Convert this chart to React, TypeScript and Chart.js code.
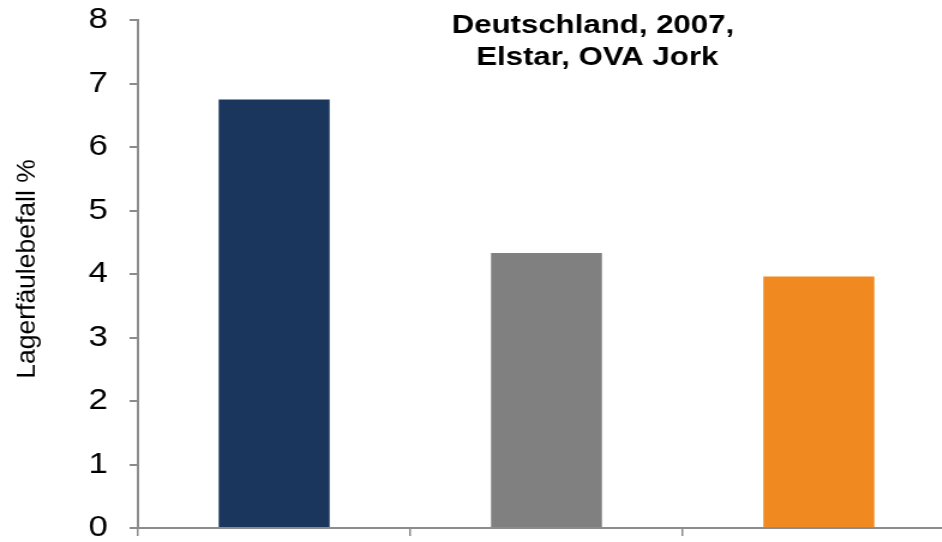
import React, { useEffect, useRef } from "react";
import { Chart, registerables } from "chart.js";

Chart.register(...registerables);

const CATEGORIES = ["", "", ""];
const VALUES = [6.75, 4.33, 3.96];
const BAR_COLORS = ["#1b365d", "#808080", "#f0891f"];
const Y_TICKS_MIN = 0;
const Y_TICKS_MAX = 8;
const Y_TITLE = "Lagerfäulebefall %";
const TITLE_LINES = ["Deutschland, 2007,", " Elstar, OVA Jork"];

const AXIS_COLOR = "#8c8c8c";
const FONT = '"Liberation Sans", Arial, Helvetica, sans-serif';

const titlePlugin = {
  id: "customTitle",
  afterDraw(chart: any) {
    const { ctx, chartArea } = chart;
    const w = chartArea.right - chartArea.left;
    ctx.save();
    ctx.fillStyle = "#000";
    ctx.font = `bold 26px ${FONT}`;
    ctx.textAlign = "center";
    ctx.textBaseline = "alphabetic";
    const cx = chartArea.left + 0.5568 * w;
    ctx.fillText(TITLE_LINES[0], cx, chartArea.top + 13);
    ctx.fillText(TITLE_LINES[1], cx, chartArea.top + 45);
    ctx.restore();

    // y axis title
    ctx.save();
    ctx.fillStyle = "#000";
    ctx.translate(23, (chartArea.top + chartArea.bottom) / 2 - 5);
    ctx.scale(0.85, 1);
    ctx.rotate(-Math.PI / 2);
    ctx.font = `26.5px ${FONT}`;
    ctx.textAlign = "center";
    ctx.textBaseline = "middle";
    ctx.fillText(Y_TITLE, 0, 0);
    ctx.restore();
  },
};

export default function App() {
  const ref = useRef<HTMLCanvasElement | null>(null);

  useEffect(() => {
    if (!ref.current) return;
    const chart = new Chart(ref.current, {
      type: "bar",
      data: {
        labels: CATEGORIES,
        datasets: [
          {
            data: VALUES,
            backgroundColor: BAR_COLORS,
            borderWidth: 0,
            barPercentage: 1,
            categoryPercentage: 0.4075,
          },
        ],
      },
      options: {
        responsive: false,
        animation: false,
        devicePixelRatio: 1,
        layout: { padding: { top: 20, left: 0, right: 0, bottom: 0 } },
        plugins: {
          legend: { display: false },
          tooltip: { enabled: false },
          title: { display: false },
        },
        scales: {
          x: {
            type: "category",
            z: 1,
            offset: true,
            ticks: { display: false },
            grid: {
              display: true,
              offset: true,
              drawOnChartArea: false,
              drawTicks: true,
              tickLength: 8,
              color: AXIS_COLOR,
              lineWidth: 1.5,
            },
            border: { display: true, color: AXIS_COLOR, width: 2 },
            afterFit: (scale: any) => {
              scale.height = 14;
              scale.paddingLeft = 0;
              scale.paddingRight = 0;
            },
          },
          y: {
            min: Y_TICKS_MIN,
            max: Y_TICKS_MAX,
            ticks: {
              stepSize: 1,
              color: "#000",
              padding: 18,
              font: { family: FONT, size: 29, lineHeight: 1 },
            },
            grid: {
              display: true,
              drawOnChartArea: false,
              drawTicks: true,
              tickLength: 7,
              color: AXIS_COLOR,
              lineWidth: 2,
            },
            border: { display: true, color: AXIS_COLOR, width: 2 },
            title: { display: false },
            afterFit: (scale: any) => {
              scale.width = 115;
              scale.paddingTop = 0;
              scale.paddingBottom = 0;
            },
          },
        },
      },
      plugins: [titlePlugin],
    });
    return () => chart.destroy();
  }, []);

  return (
    <div
      style={{
        position: "fixed",
        left: 0,
        top: 0,
        width: 942,
        height: 542,
        overflow: "hidden",
        background: "#ffffff",
      }}
    >
      <canvas
        ref={ref}
        width={796}
        height={542}
        style={{ width: "955px", height: "542px", display: "block" }}
      />
    </div>
  );
}
